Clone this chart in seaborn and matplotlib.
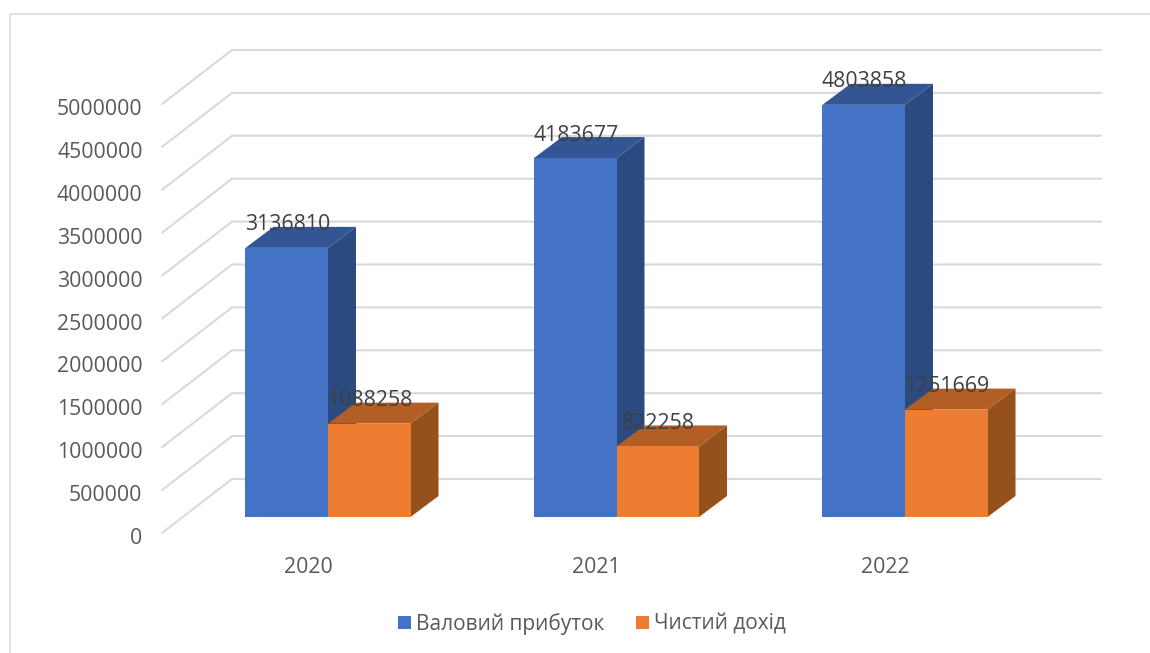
"""
Валовий прибуток і чистий дохід за роками, стовпці з псевдо-3D глибиною.
"""
import matplotlib
matplotlib.use("Agg")
import matplotlib.pyplot as plt
from matplotlib.lines import Line2D
from matplotlib.patches import Polygon
from matplotlib.transforms import ScaledTranslation
import pandas as pd
import seaborn as sns

roky = ["2020", "2021", "2022"]
valovyi = [3136810, 4183677, 4803858]
chystyi = [1088258, 822258, 1251669]
seria_v = "Валовий прибуток"
seria_ch = "Чистий дохід"
pozn_y = [0, 500000, 1000000, 1500000, 2000000, 2500000,
          3000000, 3500000, 4000000, 4500000, 5000000]

W, H = 1150, 653
PX_CAT = 288.5      # пікселів на категорію
PX_VAL = 85.8e-6    # пікселів на одиницю значення
X0, Y0 = 328, 517   # центр першої категорії і нульовий рівень
LEFT, RIGHT, TOP = 162, 1101, 50

SIRYI = "#D9D9D9"
TEKST = "#595959"
FS = 15.3

sns.set_theme(style="white")
plt.rcParams["font.family"] = ["Open Sans", "DejaVu Sans"]

df = pd.DataFrame({
    "rik": roky * 2,
    "suma": valovyi + chystyi,
    "seria": [seria_v] * 3 + [seria_ch] * 3,
})

fig = plt.figure(figsize=(W / 100, H / 100), dpi=100)
ax = fig.add_axes([LEFT / W, 1 - Y0 / H, (RIGHT - LEFT) / W, (Y0 - TOP) / H])

sns.barplot(data=df, x="rik", y="suma", hue="seria", order=roky,
            palette=["#4472C4", "#ED7D31"], width=0.572, gap=0,
            errorbar=None, saturation=1, linewidth=0, ax=ax)

ax.set_xlim((LEFT - X0) / PX_CAT, (RIGHT - X0) / PX_CAT)
ax.set_ylim(0, (Y0 - TOP) / PX_VAL)
ax.set_xlabel("")
ax.set_ylabel("")
ax.set_facecolor("none")
sns.despine(ax=ax, left=True, bottom=True)


def dx(px):
    return px / PX_CAT


def dy(px):
    return px / PX_VAL


# задня стінка і похилі лінії від передньої кромки
for v in pozn_y:
    ax.plot([dx(LEFT - X0), dx(232 - X0), dx(RIGHT - X0)],
            [v + dy(Y0 - 533), v + dy(Y0 - 479), v + dy(Y0 - 479)],
            color=SIRYI, lw=1.5, clip_on=False, zorder=1,
            solid_joinstyle="miter")

# бокові та верхні грані, передні грані малює barplot
DEPTH_X, DEPTH_Y = dx(28), dy(21)
kolory = [("#2A4A80", "#335593"), ("#96501B", "#B25E24")]
for i, (cont, (bik, verh)) in enumerate(zip(ax.containers, kolory)):
    for bar in cont:
        x1 = bar.get_x()
        x2 = x1 + bar.get_width()
        h = bar.get_height()
        ax.add_patch(Polygon([(x2, 0), (x2 + DEPTH_X, DEPTH_Y),
                              (x2 + DEPTH_X, h + DEPTH_Y), (x2, h)],
                             fc=bik, ec="none", zorder=2 + i, clip_on=False))
        ax.add_patch(Polygon([(x1, h), (x1 + DEPTH_X, h + DEPTH_Y),
                              (x2 + DEPTH_X, h + DEPTH_Y), (x2, h)],
                             fc=verh, ec="none", zorder=2 + i, clip_on=False))
        bar.set_zorder(4)
        ax.annotate(f"{h:.0f}", (x1 + bar.get_width() / 2, h),
                    xytext=(0.5, 23 * 0.72), textcoords="offset points",
                    ha="center", va="center", fontsize=FS, color="#404040",
                    zorder=6, annotation_clip=False)

# підписи осей зсунуті до передньої кромки підлоги
ax.set_yticks(pozn_y)
ax.set_yticklabels([str(v) for v in pozn_y])
ax.tick_params(axis="both", length=0, labelsize=FS, labelcolor=TEKST)
ax.tick_params(axis="y", pad=14)
ax.tick_params(axis="x", pad=29)
zsuv_y = ScaledTranslation(0, -19 / 100, fig.dpi_scale_trans)
for lab in ax.get_yticklabels():
    lab.set_transform(lab.get_transform() + zsuv_y)
zsuv_x = ScaledTranslation(-20 / 100, 0, fig.dpi_scale_trans)
for lab in ax.get_xticklabels():
    lab.set_transform(lab.get_transform() + zsuv_x)

ax.legend(loc="center", bbox_to_anchor=(592 / W, 1 - 624 / H),
          bbox_transform=fig.transFigure, ncol=2, frameon=False,
          fontsize=15, labelcolor=TEKST, handlelength=0.62, handleheight=0.62,
          handletextpad=0.24, columnspacing=1.5)

# рамка скриншота
fig.add_artist(Line2D([10 / W, 10 / W, 1], [0, 1 - 14 / H, 1 - 14 / H],
                      color=SIRYI, lw=1.1))

fig.savefig("out.png", dpi=100)
plt.close(fig)
